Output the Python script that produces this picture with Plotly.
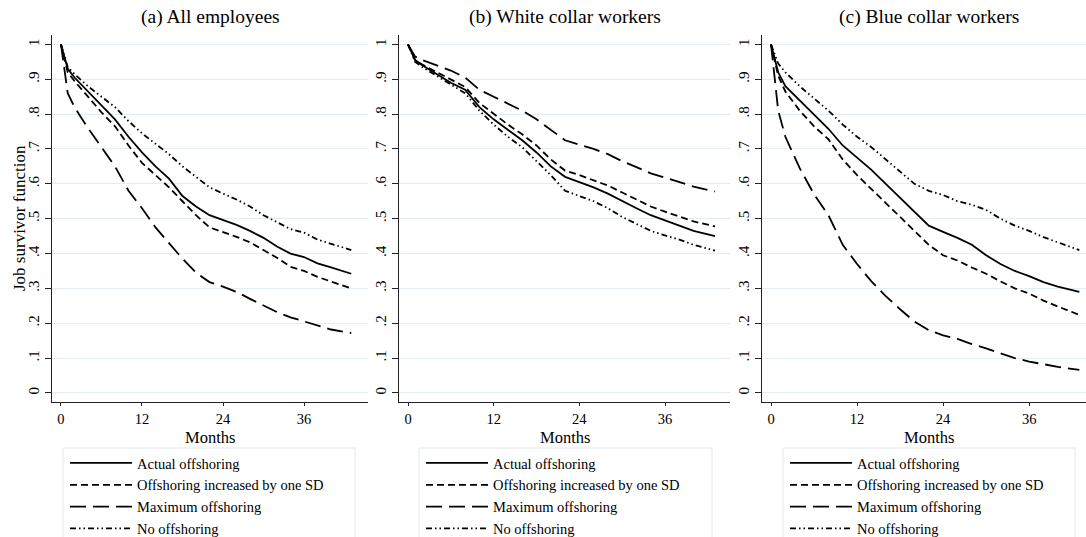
import plotly.graph_objects as go

W, H = 1086, 537

months = [0, 1, 2, 4, 6, 8, 10, 12, 14, 16, 18, 20, 22, 24, 26, 28, 30, 32, 34, 36, 38, 40, 43]

# (a) All employees
a_actual = [1.0, 0.93, 0.905, 0.865, 0.825, 0.785, 0.735, 0.69, 0.65, 0.615, 0.565, 0.535, 0.51, 0.497, 0.482, 0.465, 0.445, 0.42, 0.40, 0.39, 0.372, 0.36, 0.342]
a_sd = [1.0, 0.92, 0.895, 0.85, 0.805, 0.765, 0.71, 0.66, 0.625, 0.59, 0.55, 0.51, 0.475, 0.462, 0.448, 0.432, 0.41, 0.388, 0.362, 0.35, 0.333, 0.32, 0.30]
a_max = [1.0, 0.86, 0.82, 0.76, 0.705, 0.65, 0.58, 0.53, 0.475, 0.43, 0.385, 0.345, 0.318, 0.305, 0.29, 0.27, 0.252, 0.232, 0.217, 0.205, 0.192, 0.182, 0.172]
a_none = [1.0, 0.935, 0.915, 0.88, 0.85, 0.82, 0.78, 0.745, 0.715, 0.685, 0.65, 0.62, 0.59, 0.572, 0.555, 0.535, 0.51, 0.49, 0.47, 0.46, 0.44, 0.428, 0.41]

# (b) White collar workers
b_actual = [1.0, 0.955, 0.94, 0.915, 0.89, 0.87, 0.82, 0.785, 0.755, 0.725, 0.69, 0.65, 0.62, 0.605, 0.59, 0.572, 0.55, 0.53, 0.51, 0.495, 0.48, 0.465, 0.45]
b_sd = [1.0, 0.955, 0.942, 0.92, 0.898, 0.878, 0.832, 0.80, 0.77, 0.742, 0.71, 0.67, 0.638, 0.625, 0.61, 0.595, 0.575, 0.555, 0.535, 0.52, 0.505, 0.492, 0.478]
b_max = [1.0, 0.965, 0.955, 0.94, 0.925, 0.905, 0.87, 0.85, 0.83, 0.81, 0.785, 0.755, 0.725, 0.712, 0.70, 0.685, 0.665, 0.648, 0.63, 0.618, 0.605, 0.592, 0.578]
b_none = [1.0, 0.95, 0.935, 0.91, 0.885, 0.86, 0.81, 0.77, 0.735, 0.705, 0.665, 0.625, 0.58, 0.565, 0.55, 0.53, 0.505, 0.485, 0.465, 0.452, 0.44, 0.425, 0.408]

# (c) Blue collar workers
c_actual = [1.0, 0.92, 0.88, 0.84, 0.80, 0.758, 0.71, 0.675, 0.64, 0.60, 0.56, 0.52, 0.48, 0.462, 0.445, 0.425, 0.395, 0.37, 0.35, 0.335, 0.318, 0.305, 0.29]
c_sd = [1.0, 0.91, 0.865, 0.81, 0.765, 0.728, 0.67, 0.625, 0.585, 0.545, 0.505, 0.465, 0.425, 0.395, 0.38, 0.36, 0.342, 0.32, 0.30, 0.285, 0.265, 0.248, 0.224]
c_max = [1.0, 0.81, 0.735, 0.645, 0.57, 0.51, 0.425, 0.37, 0.32, 0.278, 0.24, 0.205, 0.18, 0.165, 0.155, 0.14, 0.128, 0.115, 0.10, 0.09, 0.082, 0.075, 0.066]
c_none = [1.0, 0.945, 0.92, 0.88, 0.845, 0.81, 0.77, 0.735, 0.705, 0.67, 0.635, 0.60, 0.58, 0.568, 0.55, 0.54, 0.525, 0.50, 0.48, 0.465, 0.447, 0.432, 0.41]

series_names = ["Actual offshoring", "Offshoring increased by one SD", "Maximum offshoring", "No offshoring"]
panel_titles = ["(a) All employees", "(b) White collar workers", "(c) Blue collar workers"]
x_ticks = [0, 12, 24, 36]
y_ticks = [0, 0.1, 0.2, 0.3, 0.4, 0.5, 0.6, 0.7, 0.8, 0.9, 1.0]
y_ticktext = ["0", ".1", ".2", ".3", ".4", ".5", ".6", ".7", ".8", ".9", "1"]
x_title = "Months"
y_title = "Job survivor function"

panels = [
    [a_actual, a_sd, a_max, a_none],
    [b_actual, b_sd, b_max, b_none],
    [c_actual, c_sd, c_max, c_none],
]

dashes = ["solid", "7px,4px", "16px,7px", "6px,3px,1.5px,3px,1.5px,3px"]
FONT = "Liberation Serif"

# pixel geometry
px_left = [52, 399, 762]
px_right = [368, 730, 1086]
xranges = [[-1.33, 45.48], [-1.26, 45.1], [-1.26, 43.93]]
title_cx = [210, 565, 929]
legend_box = [(63, 355), (419, 712), (783, 1075)]
top_px, bot_px = 35, 402

def px(x):
    return x / W

def py(y):
    return 1 - y / H

fig = go.Figure()
legend_keys = ["legend", "legend2", "legend3"]
for i, data in enumerate(panels):
    xa = "x" if i == 0 else f"x{i+1}"
    ya = "y" if i == 0 else f"y{i+1}"
    for j, vals in enumerate(data):
        fig.add_trace(go.Scatter(
            x=months, y=vals, mode="lines", name=series_names[j],
            line=dict(color="black", width=1.8, dash=dashes[j]),
            xaxis=xa, yaxis=ya, legend=legend_keys[i], showlegend=True,
            hoverinfo="skip",
        ))

layout = dict(
    width=W, height=H,
    margin=dict(l=0, r=0, t=0, b=0, autoexpand=False),
    paper_bgcolor="white", plot_bgcolor="white",
    font=dict(family=FONT, color="black", size=15),
    annotations=[], shapes=[],
)

for i in range(3):
    sx = "" if i == 0 else str(i + 1)
    layout["xaxis" + sx] = dict(
        domain=[px(px_left[i]), px(px_right[i])], range=xranges[i],
        anchor="y" + sx, tickvals=x_ticks, ticks="outside", ticklen=3,
        tickwidth=1.2, tickcolor="#222", showline=True, linecolor="#222",
        linewidth=1.4, showgrid=False, zeroline=False,
        tickfont=dict(family=FONT, size=14.5, color="black"),
    )
    layout["yaxis" + sx] = dict(
        domain=[py(bot_px), py(top_px)], range=[-0.026, 1.027],
        anchor="x" + sx, tickvals=y_ticks, ticktext=y_ticktext,
        ticks="outside", ticklen=6, tickwidth=1.2, tickcolor="#222",
        showline=True, linecolor="#222", linewidth=1.4,
        showgrid=True, gridcolor="#e4eef2", gridwidth=1.2, zeroline=False,
        tickangle=-90, tickfont=dict(family=FONT, size=15, color="black"),
    )
    layout["annotations"].append(dict(
        text=panel_titles[i], x=px(title_cx[i]), y=py(17), xref="paper", yref="paper",
        xanchor="center", yanchor="middle", showarrow=False,
        font=dict(family=FONT, size=19.5, color="black"),
    ))
    layout["annotations"].append(dict(
        text=x_title, x=px(title_cx[i]), y=py(437), xref="paper", yref="paper",
        xanchor="center", yanchor="middle", showarrow=False,
        font=dict(family=FONT, size=16.5, color="black"),
    ))
    bl, br = legend_box[i]
    layout["shapes"].append(dict(
        type="rect", xref="paper", yref="paper",
        x0=px(bl), x1=px(br), y0=py(560), y1=py(448),
        line=dict(color="#dfe8ec", width=1), fillcolor="rgba(0,0,0,0)", layer="below",
    ))
    layout[legend_keys[i]] = dict(
        x=px(bl + 2), y=py(447), xanchor="left", yanchor="top",
        xref="paper", yref="paper", orientation="v",
        borderwidth=0, bgcolor="rgba(0,0,0,0)",
        font=dict(family=FONT, size=14.5, color="black"),
        itemwidth=62, tracegroupgap=0, itemclick=False, itemdoubleclick=False,
    )

layout["annotations"].append(dict(
    text=y_title, x=px(19), y=py(218), xref="paper", yref="paper",
    xanchor="center", yanchor="middle", showarrow=False, textangle=-90,
    font=dict(family=FONT, size=17, color="black"),
))

fig.update_layout(**layout)
fig.write_html(
    "out.html",
    config={"displayModeBar": False},
    post_script="document.body.style.margin='0';document.body.style.overflow='hidden';",
)
